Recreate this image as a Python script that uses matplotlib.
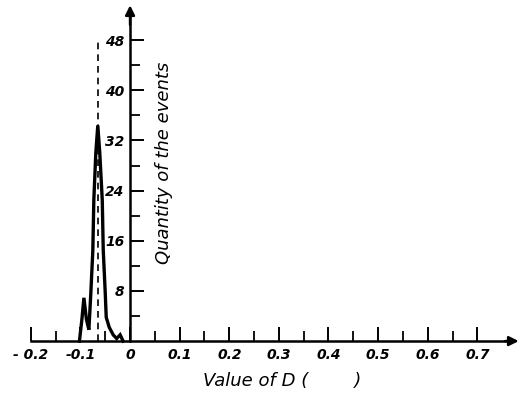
import matplotlib
matplotlib.use("Agg")
import matplotlib.pyplot as plt
from matplotlib.ticker import FixedLocator

# distribution of D
d_vals = [-0.102, -0.097, -0.093, -0.088, -0.083, -0.079, -0.075, -0.073, -0.069,
          -0.065, -0.061, -0.056, -0.054, -0.050, -0.048, -0.042, -0.034, -0.027,
          -0.020, -0.014]
counts = [0, 3.5, 6.9, 3.5, 1.8, 7.7, 14.5, 22.5, 30,
          34.4, 30, 22.5, 14.5, 7.7, 3.8, 2.2, 1.0, 0.4,
          1.0, 0]
d_mark = -0.065
mark_top = 48

xticks = [-0.2, -0.1, 0, 0.1, 0.2, 0.3, 0.4, 0.5, 0.6, 0.7]
xlabels = ["- 0.2", "-0.1", "0", "0.1", "0.2", "0.3", "0.4", "0.5", "0.6", "0.7"]
xminor = [-0.15, -0.05, 0.05, 0.15, 0.25, 0.35, 0.45, 0.55, 0.65]
yticks = [8, 16, 24, 32, 40, 48]
yminor = [4, 12, 20, 28, 36, 44]

FONT = dict(style="italic", family="DejaVu Sans")

fig = plt.figure(figsize=(5.21, 3.95), dpi=100)
ax = fig.add_axes([20 / 521, 0, 501 / 521, 390 / 395])
ax.set_xlim(-0.2218, 0.788)
ax.set_ylim(-8.6, 53.6)

for s in ("top", "right"):
    ax.spines[s].set_visible(False)
ax.spines["left"].set_position(("data", 0))
ax.spines["bottom"].set_position(("data", 0))
ax.spines["left"].set_bounds(0, 52)
ax.spines["bottom"].set_bounds(-0.2, 0.77)
ax.spines["left"].set_linewidth(1.8)
ax.spines["bottom"].set_linewidth(1.8)

# arrow heads
ax.annotate("", xy=(0.789, 0), xytext=(0.75, 0),
            arrowprops=dict(arrowstyle="-|>", color="k", lw=1.8, mutation_scale=14),
            annotation_clip=False)
ax.annotate("", xy=(0, 54.0), xytext=(0, 50),
            arrowprops=dict(arrowstyle="-|>", color="k", lw=1.8, mutation_scale=14),
            annotation_clip=False)

ax.set_xticks(xticks)
ax.set_xticklabels(xlabels, fontsize=10, fontweight="bold", **FONT)
ax.xaxis.set_minor_locator(FixedLocator(xminor))
ax.set_yticks(yticks)
ax.set_yticklabels([str(v) for v in yticks], fontsize=10, fontweight="bold", **FONT)
ax.yaxis.set_minor_locator(FixedLocator(yminor))
ax.tick_params(axis="both", which="major", direction="in", length=10, width=1.4)
ax.tick_params(axis="both", which="minor", direction="in", length=7, width=1.3)
ax.tick_params(axis="x", pad=5)
ax.tick_params(axis="y", pad=4)

ax.plot(d_vals, counts, color="k", lw=2.4, solid_joinstyle="miter")
ax.plot([d_mark, d_mark], [0, mark_top], color="k", lw=1.2, ls=(0, (4, 3)))

ax.text(0.0685, 28.5, "Quantity of the events", rotation=90, ha="center",
        va="center", fontsize=13, **FONT)
ax.text(0.306, -6.4, "Value of D (        )", ha="center", va="center",
        fontsize=13, **FONT)

fig.savefig("out.png", dpi=100, facecolor="white")
